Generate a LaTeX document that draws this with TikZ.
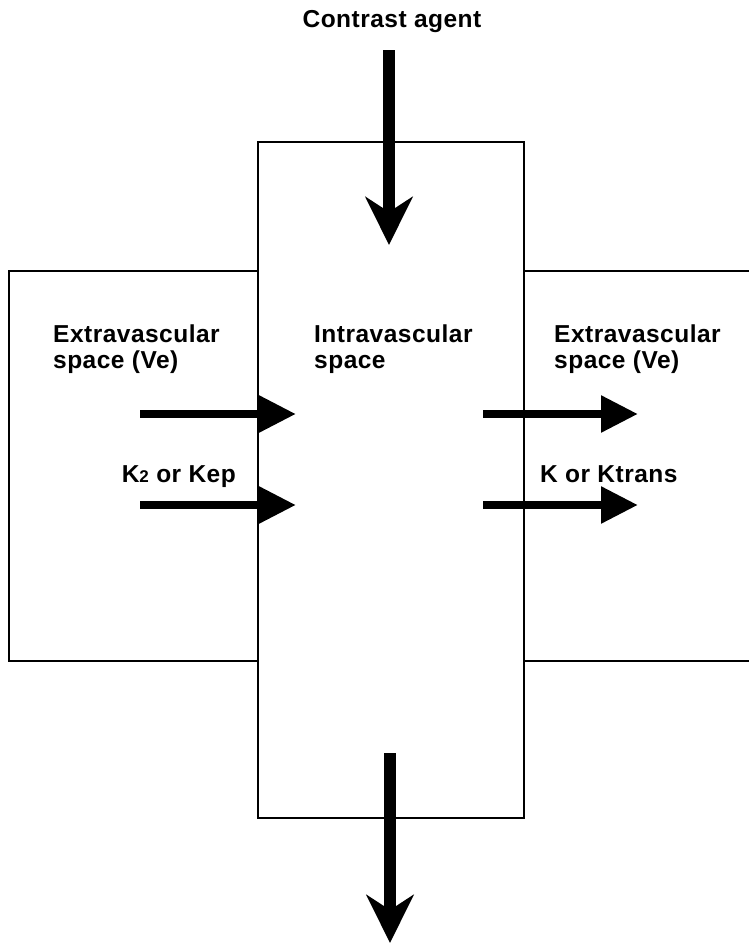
\documentclass[tikz,border=0pt]{standalone}
\usepackage{fontspec}
\setmainfont{Liberation Sans}[LetterSpace=2]
\usepackage{tikz}
\usetikzlibrary{arrows.meta, positioning}

\tikzset{
	compartment/.style={line width=1.4pt},
	flowdown/.style={line width=12.5pt, -{Stealth[length=48pt, width=47pt, inset=15pt]}},
	exchange/.style={line width=8.5pt, -{Triangle[length=37pt, width=35pt]}},
	label/.style={font=\fontsize{24.5}{26}\selectfont\bfseries, inner sep=0pt, align=left, anchor=base west}
}

\begin{document}
\begin{tikzpicture}[x=1pt, y=-1pt]
	\useasboundingbox (0,0) rectangle (749,945);
	\pgfmathsetmacro{\innerL}{258}
	\pgfmathsetmacro{\innerR}{524}
	\pgfmathsetmacro{\rowA}{414}
	\pgfmathsetmacro{\rowB}{505}
	
	% compartments
	\draw[compartment] (\innerL,271) -- (9,271) -- (9,661) -- (\innerL,661);
	\draw[compartment] (749,271) -- (\innerR,271) -- (\innerR,661) -- (749,661);
	\draw[compartment] (\innerL,142) rectangle (\innerR,818);
	
	% labels (base = last line)
	\node[label, anchor=base] (agent) at (392,27) {Contrast agent};
	\node[label] (extraL) at (53,368) {Extravascular\\space (Ve)};
	\node[label] (intra) at (314,368) {Intravascular\\space};
	\node[label] (extraR) at (554,368) {Extravascular\\space (Ve)};
	\node[label, anchor=base east] (kep) at (236,482) {K{\fontsize{17}{17}\selectfont 2} or Kep};
	\node[label] (ktrans) at (540,482) {K or Ktrans};
	
	% flow of contrast agent
	\coordinate (inflowS) at (389,50);
	\coordinate (inflowE) at (389,245);
	\coordinate (outflowS) at (390,753);
	\coordinate (outflowE) at (390,943);
	\draw[flowdown] (inflowS) -- (inflowE);
	\draw[flowdown] (outflowS) -- (outflowE);
	
	% exchange
	\draw[exchange] (140,\rowA) -- (296,\rowA);
	\draw[exchange] (140,\rowB) -- (296,\rowB);
	\draw[exchange] (483,\rowA) -- (638,\rowA);
	\draw[exchange] (483,\rowB) -- (638,\rowB);
\end{tikzpicture}
\end{document}
